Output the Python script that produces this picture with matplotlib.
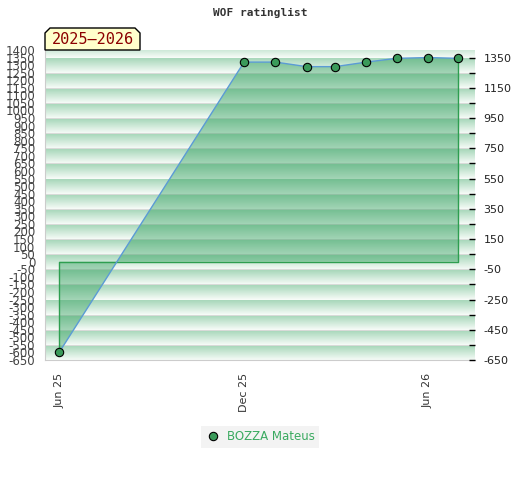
import matplotlib
matplotlib.use('Agg')
import matplotlib.pyplot as plt
import matplotlib.dates as mdates
import matplotlib.patches as mpatches
from matplotlib.lines import Line2D
import numpy as np
import datetime as dt

plt.rcParams['axes.unicode_minus'] = False

# data
months = ['2025-06-01', '2025-12-01', '2026-01-01', '2026-02-01', '2026-03-01',
          '2026-04-01', '2026-05-01', '2026-06-01', '2026-07-01']
ratings = [-600, 1320, 1320, 1290, 1290, 1320, 1345, 1350, 1345]
player = 'BOZZA Mateus'
season = '2025\u20132026'
xtick_dates = ['2025-06-01', '2025-12-01', '2026-06-01']
xtick_labels = ['Jun 25', 'Dec 25', 'Jun 26']

dates = [dt.datetime.strptime(d, '%Y-%m-%d') for d in months]
xnum = mdates.date2num(dates)

ymin, ymax = -650, 1400
xlo = xnum[0] - 14
xhi = xnum[-1] + 16.5

fig = plt.figure(figsize=(5.2, 4.8), dpi=100)
ax = fig.add_axes([45/520, 120/480, 430/520, 310/480])

# striped background, one band per 100 rating points
vals = np.arange(ymin, ymax, 1.0)
phase = ((vals - ymin) % 100) / 100.0
white = np.array([0.965, 0.985, 0.970])
green = np.array([0.670, 0.850, 0.740])
gray = np.array([0.850, 0.855, 0.850])
t = np.clip(phase / 0.9, 0, 1)[:, None]
rows = white * (1 - t) + green * t
rows[phase > 0.93] = gray
img = rows[:, None, :]
ax.imshow(img, extent=[xlo, xhi, ymin, ymax], origin='lower', aspect='auto',
          interpolation='nearest', zorder=0)

ax.fill_between(xnum, ratings, 0, facecolor='#2e9e5b', alpha=0.42,
                edgecolor='none', zorder=1)
ax.plot([xnum[0], xnum[0], xnum[-1], xnum[-1]], [ratings[0], 0, 0, ratings[-1]],
        color='#2e9e50', linewidth=1, zorder=2)
ax.plot(xnum, ratings, color='#5b9bd5', linewidth=1, zorder=3)
ax.plot(xnum, ratings, 'o', color='#3a9a5a', markeredgecolor='black',
        markeredgewidth=0.8, markersize=6, zorder=4)

ax.set_xlim(xlo, xhi)
ax.set_ylim(ymin, ymax)

ax.set_yticks(range(-650, 1401, 50))
ax.tick_params(axis='y', length=0, pad=7, labelsize=8.5, labelcolor='#444444')
ax.set_xticks(mdates.date2num([dt.datetime.strptime(d, '%Y-%m-%d') for d in xtick_dates]))
ax.set_xticklabels(xtick_labels, rotation=90)
ax.tick_params(axis='x', length=0, pad=9, labelsize=8, labelcolor='#333333')

for s in ['top', 'right']:
    ax.spines[s].set_visible(False)
for s in ['left', 'bottom']:
    ax.spines[s].set_color('#cccccc')

ax2 = ax.twinx()
ax2.set_ylim(ymin, ymax)
ax2.set_yticks(range(-650, 1351, 200))
ax2.set_yticks(range(-550, 1251, 200), minor=True)
ax2.tick_params(axis='y', which='both', direction='in', length=4, width=1,
                color='black', pad=6, labelsize=8, labelcolor='#222222')
for s in ax2.spines.values():
    s.set_visible(False)

fig.text(0.5, 1 - 13/480, 'WOF ratinglist', ha='center', va='center',
         fontsize=8, family='DejaVu Sans Mono', fontweight='bold', color='#333333')

# season label box with chamfered top corners
bx0, bx1, by0, by1, c = 45, 140, 50, 28, 5
pts = [(bx0, by0), (bx0, by1 + c), (bx0 + c, by1), (bx1 - c, by1),
       (bx1, by1 + c), (bx1, by0)]
pts = [(x / 520, 1 - y / 480) for x, y in pts]
box = mpatches.Polygon(pts, closed=True, facecolor='#ffffcc', edgecolor='black',
                       linewidth=1, transform=fig.transFigure, zorder=5)
fig.patches.append(box)
fig.text((bx0 + bx1) / 2 / 520, 1 - 40/480, season, ha='center', va='center',
         fontsize=11, family='DejaVu Sans Mono', color='#8b0000', zorder=6)

handle = Line2D([], [], linestyle='none', marker='o', color='#3a9a5a',
                markeredgecolor='black', markeredgewidth=0.8, markersize=6)
leg = fig.legend([handle], [player], loc='center', bbox_to_anchor=(0.5, 1 - 437/480),
                 frameon=True, fontsize=8.5, handletextpad=0.6, borderpad=0.35,
                 handlelength=1.2, fancybox=False)
leg.get_frame().set_facecolor('#f0f0f0')
leg.get_frame().set_edgecolor('none')
for txt in leg.get_texts():
    txt.set_color('#3aaa60')

fig.savefig('out.png', dpi=100)
